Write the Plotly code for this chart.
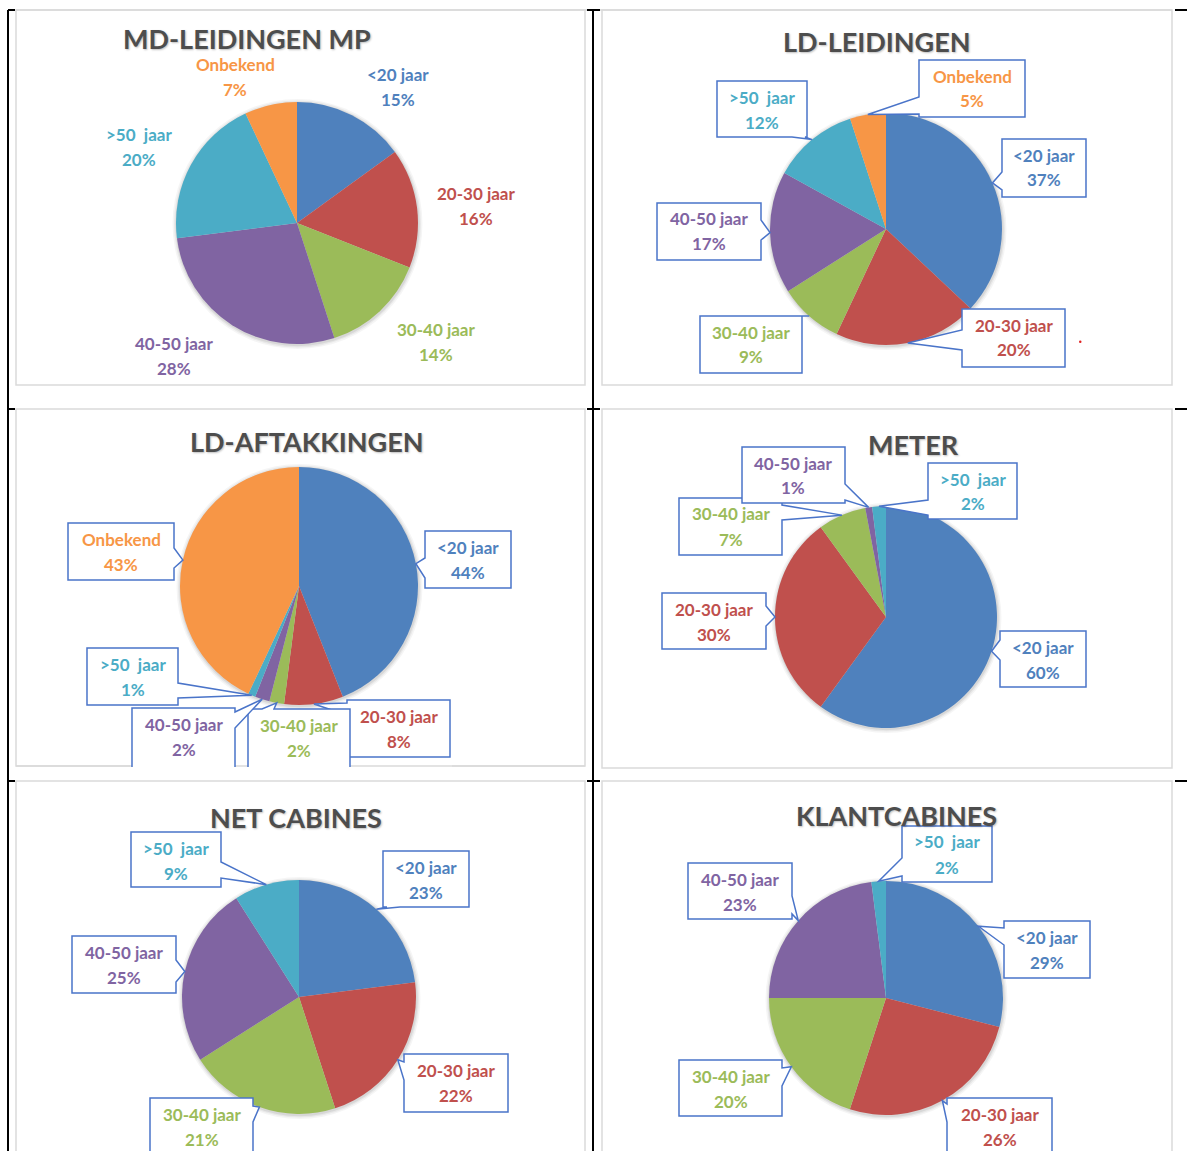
import math
import plotly.graph_objects as go

W, H = 1187, 1151

# Age classes and their colours (same order in every pie)
AGE_CLASSES = ["<20 jaar", "20-30 jaar", "30-40 jaar", "40-50 jaar", ">50\u00a0 jaar", "Onbekend"]
CLASS_COLORS = ["#4F81BD", "#C0504D", "#9BBB59", "#8064A2", "#4BACC6", "#F79646"]

TITLES = ["MD-LEIDINGEN MP", "LD-LEIDINGEN", "LD-AFTAKKINGEN", "METER", "NET CABINES", "KLANTCABINES"]

# Share per age class (%)
md_leidingen_mp = [15, 16, 14, 28, 20, 7]
ld_leidingen = [37, 20, 9, 17, 12, 5]
ld_aftakkingen = [44, 8, 2, 2, 1, 43]
meter = [60, 30, 7, 1, 2]
net_cabines = [23, 22, 21, 25, 9]
klantcabines = [29, 26, 20, 23, 2]

SERIES = [md_leidingen_mp, ld_leidingen, ld_aftakkingen, meter, net_cabines, klantcabines]

# ---- layout (pixel positions) ------------------------------------------
LAYOUT = [
    dict(center=(297, 223), r=121, title_pos=(247, 39),
         plain=[(398, 87), (476, 206), (436, 342), (174, 356), (139, 147), (235, 77)]),
    dict(center=(886, 229), r=116, title_pos=(876, 42),
         boxes=[((1002, 139, 1086, 197), "l", 172, 190),
                ((962, 309, 1065, 367), "l", 330, 350),
                ((700, 316, 802, 373), "t", 788, 800),
                ((657, 203, 761, 260), "r", 220, 240),
                ((717, 81, 807, 137), "b", 792, 805),
                ((919, 60, 1025, 117), "l", 97, 114)]),
    dict(center=(299, 586), r=119, title_pos=(307, 442),
         boxes=[((425, 531, 511, 588), "l", 558, 578),
                ((347, 700, 450, 757), "l", 703, 715),
                ((248, 709, 350, 772), "t", 262, 274),
                ((132, 708, 235, 772), "r", 712, 728),
                ((87, 648, 178, 705), "r", 683, 698),
                ((68, 523, 174, 580), "r", 548, 568)]),
    dict(center=(886, 617), r=111, title_pos=(913, 445),
         boxes=[((1000, 631, 1086, 687), "l", 640, 660),
                ((662, 593, 766, 649), "r", 606, 626),
                ((679, 498, 782, 555), "r", 505, 520),
                ((742, 447, 845, 503), "r", 484, 500),
                ((928, 463, 1017, 519), "l", 500, 515)]),
    dict(center=(299, 997), r=117, title_pos=(296, 817),
         boxes=[((383, 851, 469, 907), "b", 387, 400),
                ((404, 1054, 508, 1112), "l", 1062, 1080),
                ((150, 1098, 253, 1165), "r", 1106, 1122),
                ((72, 936, 176, 993), "r", 960, 982),
                ((131, 832, 221, 887), "r", 862, 878)]),
    dict(center=(886, 998), r=117, title_pos=(896, 815),
         boxes=[((1004, 921, 1090, 978), "l", 928, 945),
                ((947, 1098, 1052, 1165), "l", 1104, 1122),
                ((679, 1060, 782, 1116), "r", 1068, 1086),
                ((688, 863, 792, 919), "r", 896, 914),
                ((902, 826, 992, 882), "l", 858, 876)]),
]

PANEL_RECTS = [(16, 10, 585, 385), (602, 10, 1172, 385),
               (16, 409, 585, 766), (602, 409, 1172, 768),
               (16, 781, 585, 1170), (602, 781, 1172, 1170)]

BOX_LINE = "#4A74C9"
FONT = "Lato"


def px(x):
    return x / W


def py(y):
    return 1 - y / H


def slice_tip(values, i, center, r):
    total = sum(values)
    mid = (sum(values[:i]) + values[i] / 2) / total * 2 * math.pi
    return center[0] + r * math.sin(mid), center[1] - r * math.cos(mid)


def callout_path(box, edge, a, b, tip):
    x0, y0, x1, y1 = box
    tx, ty = tip
    pts = [(x0, y0)]
    if edge == "t":
        pts += [(a, y0), (tx, ty), (b, y0)]
    pts += [(x1, y0)]
    if edge == "r":
        pts += [(x1, a), (tx, ty), (x1, b)]
    pts += [(x1, y1)]
    if edge == "b":
        pts += [(b, y1), (tx, ty), (a, y1)]
    pts += [(x0, y1)]
    if edge == "l":
        pts += [(x0, b), (tx, ty), (x0, a)]
    return "M " + " L ".join(f"{px(x):.5f},{py(y):.5f}" for x, y in pts) + " Z"


fig = go.Figure()
shapes = []
annotations = []

# panel frames
for x0, y0, x1, y1 in PANEL_RECTS:
    shapes.append(dict(type="rect", xref="paper", yref="paper", layer="below",
                       x0=px(x0), x1=px(x1), y0=py(y1), y1=py(y0),
                       line=dict(color="#DADADA", width=1.5), fillcolor="rgba(0,0,0,0)"))
shapes.append(dict(type="line", xref="paper", yref="paper", layer="below",
                   x0=px(16), x1=px(1172), y0=py(10), y1=py(10),
                   line=dict(color="#DADADA", width=1.5)))

for k, (values, lay, title) in enumerate(zip(SERIES, LAYOUT, TITLES)):
    n = len(values)
    cx, cy = lay["center"]
    r = lay["r"]

    # soft shadow behind the pie
    for grow, alpha in [(4, 0.04), (2.5, 0.05), (1.2, 0.07)]:
        shapes.append(dict(type="circle", xref="paper", yref="paper", layer="below",
                           x0=px(cx - r - grow + 0.5), x1=px(cx + r + grow + 0.5),
                           y0=py(cy + r + grow + 1), y1=py(cy - r - grow + 1),
                           line=dict(width=0), fillcolor=f"rgba(0,0,0,{alpha})"))

    fig.add_trace(go.Pie(
        values=values, labels=AGE_CLASSES[:n], sort=False, direction="clockwise",
        rotation=0, textinfo="none", hoverinfo="label+percent", showlegend=False,
        marker=dict(colors=CLASS_COLORS[:n], line=dict(width=0)),
        domain=dict(x=[px(cx - r), px(cx + r)], y=[py(cy + r), py(cy - r)]),
    ))

    tx, ty = lay["title_pos"]
    annotations.append(dict(x=px(tx), y=py(ty), xref="paper", yref="paper", showarrow=False,
                            xanchor="center", yanchor="middle", text=f"<b>{title}</b>",
                            font=dict(family=FONT, size=27, color="#4D4D4D",
                                      shadow="1px 1px 2px rgba(0,0,0,0.25)")))

    for i in range(n):
        if "plain" in lay:
            lx, lmid = lay["plain"][i]
        else:
            box, edge, a, b = lay["boxes"][i]
            tip = slice_tip(values, i, (cx, cy), r)
            shapes.append(dict(type="path", xref="paper", yref="paper", layer="above",
                               path=callout_path(box, edge, a, b, tip),
                               fillcolor="white", line=dict(color=BOX_LINE, width=1.5)))
            lx = (box[0] + box[2]) / 2
            lmid = box[1] + 28.5
        col = CLASS_COLORS[i]
        for text, dy in [(AGE_CLASSES[i], -12.5), (f"{values[i]}%", 12.5)]:
            annotations.append(dict(x=px(lx), y=py(lmid + dy), xref="paper", yref="paper",
                                    showarrow=False, xanchor="center", yanchor="middle",
                                    text=f"<b>{text}</b>",
                                    font=dict(family=FONT, size=17, color=col)))

# white strip below the LD-AFTAKKINGEN frame (callouts run into it)
shapes.append(dict(type="rect", xref="paper", yref="paper", layer="above",
                   x0=px(17), x1=px(584), y0=py(780), y1=py(767),
                   line=dict(width=0), fillcolor="white"))
shapes.append(dict(type="line", xref="paper", yref="paper", layer="above",
                   x0=px(16), x1=px(130), y0=py(766), y1=py(766),
                   line=dict(color="#DADADA", width=1.5)))
shapes.append(dict(type="line", xref="paper", yref="paper", layer="above",
                   x0=px(452), x1=px(585), y0=py(766), y1=py(766),
                   line=dict(color="#DADADA", width=1.5)))

# table rules
for xv in (8, 593):
    shapes.append(dict(type="line", xref="paper", yref="paper", layer="above",
                       x0=px(xv), x1=px(xv), y0=py(1151), y1=py(10),
                       line=dict(color="black", width=2)))
for yv in (10, 409, 781):
    for xa, xb in [(8, 15), (587, 600), (1175, 1187)]:
        shapes.append(dict(type="line", xref="paper", yref="paper", layer="above",
                           x0=px(xa), x1=px(xb), y0=py(yv), y1=py(yv),
                           line=dict(color="black", width=2)))

# small red mark next to the LD-LEIDINGEN chart
shapes.append(dict(type="circle", xref="paper", yref="paper", layer="above",
                   x0=px(1079), x1=px(1081.5), y0=py(343), y1=py(340.5),
                   line=dict(width=0), fillcolor="#E02020"))

fig.update_layout(width=W, height=H, margin=dict(l=0, r=0, t=0, b=0),
                  paper_bgcolor="white", plot_bgcolor="white",
                  shapes=shapes, annotations=annotations)

fig.write_html("out.html")
